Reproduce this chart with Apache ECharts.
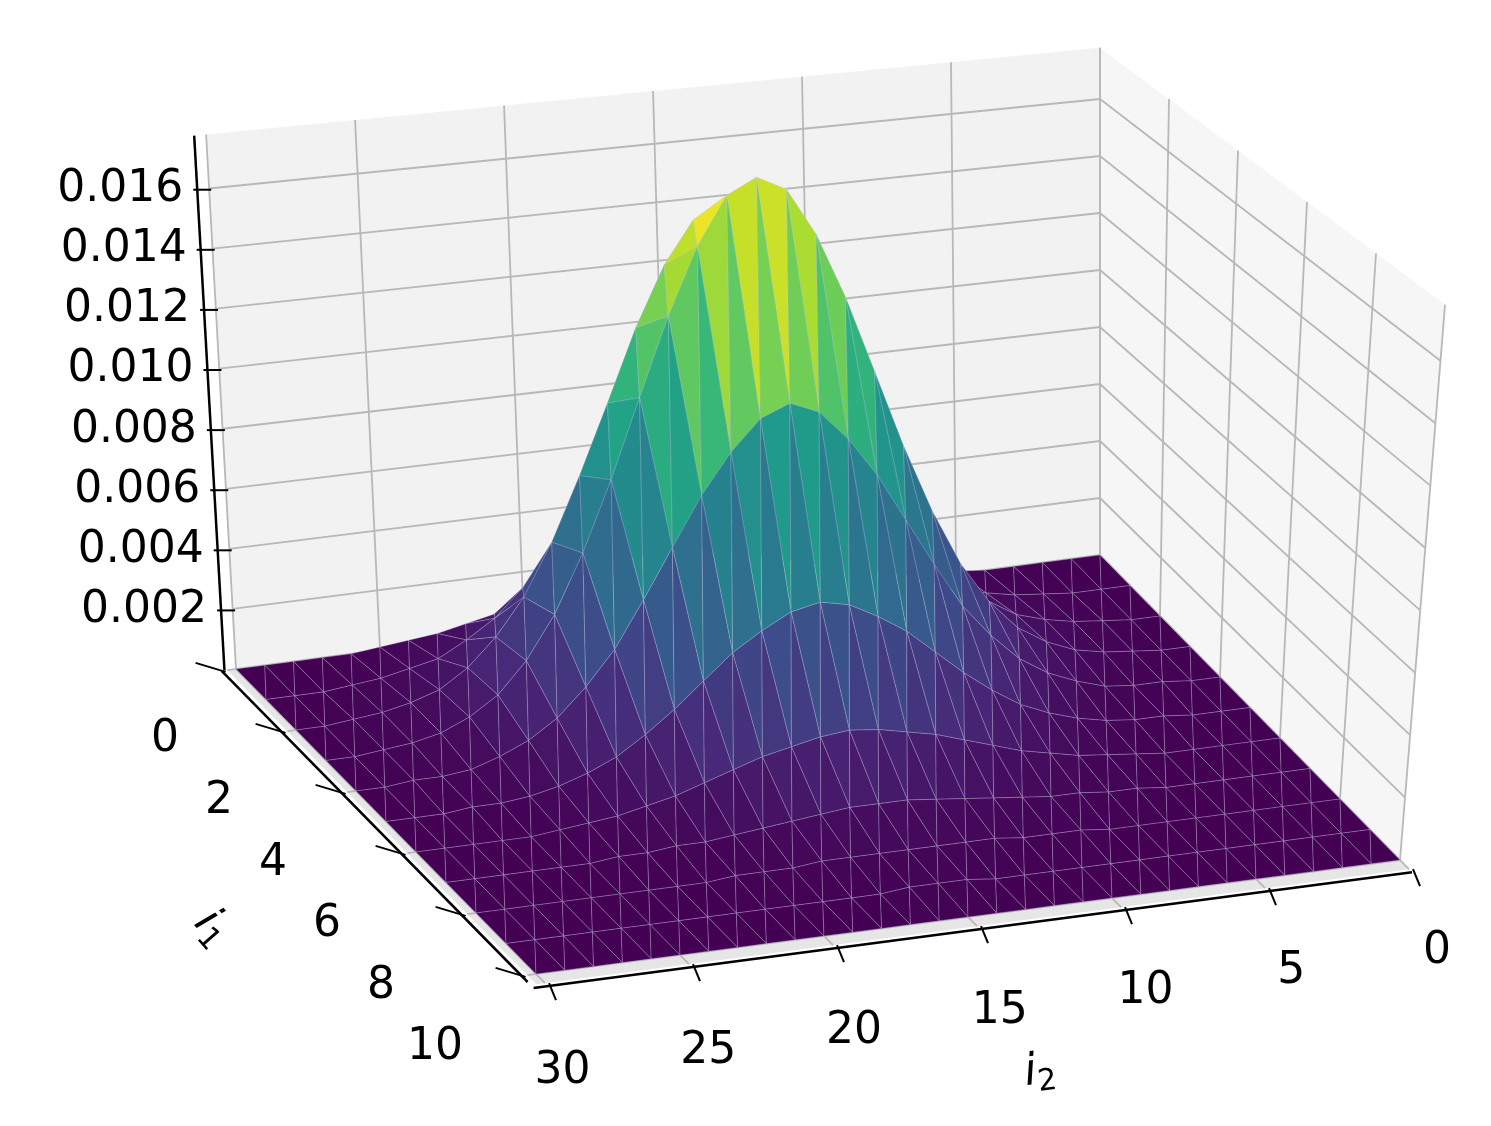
<!DOCTYPE html>
<html>
<head>
    <meta charset="utf-8" />
    <title></title>
    <script src="https://cdn.jsdelivr.net/npm/echarts@6/dist/echarts.min.js"></script>
    <style>html,body{margin:0;background:#fff;}</style>
</head>
<body>
    <div id="divChart" style="width:1491px;height:1126px;"></div>
    <script>
        // surface values, rows = i1 (0..10), columns = i2 (0..30), unit 1e-4
        let unit = 1e-4;
        let i1Ticks = [0, 2, 4, 6, 8, 10];
        let i2Ticks = [0, 5, 10, 15, 20, 25, 30];
        let zTicks = [0.002, 0.004, 0.006, 0.008, 0.010, 0.012, 0.014, 0.016];
        let zTickLabels = ['0.002', '0.004', '0.006', '0.008', '0.010', '0.012', '0.014', '0.016'];
        let zMax = 0.0178;
        let surface = [
            [0,0,0,0,0,1,2,3,5,7,10,13,16,18,20,21,20,18,16,13,10,7,5,3,2,1,0,0,0,0,0],
            [0,0,0,1,2,4,6,11,17,26,36,48,59,69,77,79,77,69,59,48,36,26,17,11,6,4,2,1,0,0,0],
            [0,0,1,2,4,7,13,22,34,51,72,95,119,139,153,158,153,139,119,95,72,51,34,22,13,7,4,2,1,0,0],
            [0,0,1,2,4,8,14,24,38,57,80,106,132,154,170,175,170,154,132,106,80,57,38,24,14,8,4,2,1,0,0],
            [0,0,1,1,2,5,9,15,24,35,50,66,82,95,105,109,105,95,82,66,50,35,24,15,9,5,2,1,1,0,0],
            [0,0,0,1,1,2,4,7,11,17,24,32,40,46,51,53,51,46,40,32,24,17,11,7,4,2,1,1,0,0,0],
            [0,0,0,0,0,1,2,3,5,7,10,13,16,18,20,21,20,18,16,13,10,7,5,3,2,1,0,0,0,0,0],
            [0,0,0,0,0,0,1,1,2,2,3,4,5,6,7,7,7,6,5,4,3,2,2,1,1,0,0,0,0,0,0],
            [0,0,0,0,0,0,0,0,0,1,1,1,2,2,2,2,2,2,2,1,1,1,0,0,0,0,0,0,0,0,0],
            [0,0,0,0,0,0,0,0,0,0,0,0,0,0,1,1,1,0,0,0,0,0,0,0,0,0,0,0,0,0,0],
            [0,0,0,0,0,0,0,0,0,0,0,0,0,0,0,0,0,0,0,0,0,0,0,0,0,0,0,0,0,0,0]
        ];

        // simple perspective-ish projection of (i1, i2, z) onto the page
        function P(a, b, z) {
            z = z || 0;
            let f = 0.95 + 0.009 * a + 0.0017 * b;
            return [1100 + 30 * a - 28.8 * b + z * (253 * a - 56 * b),
                    555 + 30.5 * a + 3.8 * b - z * 30000 * f];
        }
        function Z(a, b) { return surface[a][b] * unit; }

        // build triangles, far ones first
        let faces = [];
        for (let a = 0; a < surface.length - 1; a++) {
            for (let b = 0; b < surface[0].length - 1; b++) {
                let t1 = [[a, b], [a + 1, b], [a + 1, b + 1]];
                let t2 = [[a, b], [a, b + 1], [a + 1, b + 1]];
                [t1, t2].forEach(function (t) {
                    let ca = (t[0][0] + t[1][0] + t[2][0]) / 3;
                    let cb = (t[0][1] + t[1][1] + t[2][1]) / 3;
                    let zm = (Z(t[0][0], t[0][1]) + Z(t[1][0], t[1][1]) + Z(t[2][0], t[2][1])) / 3;
                    faces.push({ pts: t, depth: 30.5 * ca + 3.8 * cb, z: zm });
                });
            }
        }
        faces.sort(function (x, y) { return x.depth - y.depth; });

        let g = [];
        let font = '"DejaVu Sans", sans-serif';
        function poly(points, fill, z) {
            g.push({ type: 'polygon', z: z, shape: { points: points }, style: { fill: fill, stroke: null } });
        }
        function line(p1, p2, color, w, z) {
            g.push({ type: 'line', z: z, shape: { x1: p1[0], y1: p1[1], x2: p2[0], y2: p2[1] }, style: { stroke: color, lineWidth: w } });
        }
        function text(x, y, s, align, z, rot) {
            g.push({ type: 'text', z: z, x: x, y: y, rotation: rot || 0,
                style: { text: s, font: '44px ' + font, fill: '#000', align: align, verticalAlign: 'middle' } });
        }

        // panes
        poly([P(0, 0), P(0, 30), P(0, 30, zMax), P(0, 0, zMax)], '#f2f2f2', 0);
        poly([P(0, 0), P(10, 0), P(10, 0, zMax), P(0, 0, zMax)], '#f6f6f6', 0);
        poly([P(0, 0), P(10.3, 0), P(10.3, 30.3), P(0, 30.3)], '#e6e6e6', 0);
        // pane grid
        let gc = '#b8b8b8';
        i2Ticks.forEach(function (b) { line(P(0, b), P(0, b, zMax), gc, 1.8, 1); });
        i1Ticks.forEach(function (a) { line(P(a, 0), P(a, 0, zMax), gc, 1.8, 1); });
        zTicks.forEach(function (z) {
            line(P(0, 0, z), P(0, 30, z), gc, 1.8, 1);
            line(P(0, 0, z), P(10, 0, z), gc, 1.8, 1);
        });
        i2Ticks.forEach(function (b) { line(P(0, b), P(10.3, b), gc, 1.8, 1); });
        i1Ticks.forEach(function (a) { line(P(a, 0), P(a, 30.3), gc, 1.8, 1); });

        // z axis
        line(P(0, 30.4, 0), P(0, 30.4, zMax), '#000', 2.5, 20);
        zTicks.forEach(function (z, i) {
            let p = P(0, 30.4, z);
            line([p[0] - 4, p[1]], [p[0] + 14, p[1]], '#000', 2, 20);
            text(p[0] - 14, p[1], zTickLabels[i], 'right', 20);
        });
        // i1 axis
        line(P(0, 30.5), P(10.2, 30.5), '#000', 2.5, 20);
        i1Ticks.forEach(function (a) {
            let p = P(a, 30.5);
            line([p[0] - 26, p[1] - 8], [p[0] + 4, p[1] + 1], '#000', 2, 20);
            let q = P(a, 30);
            text(q[0] - 71 - 3 * a, q[1] + 71 + 0.3 * a, String(a), 'center', 20);
        });
        // i2 axis
        line(P(10.4, 0), P(10.4, 30.5), '#000', 2.5, 20);
        i2Ticks.forEach(function (b) {
            let p = P(10.4, b);
            line([p[0] + 1, p[1] - 3], [p[0] + 8, p[1] + 14], '#000', 2, 20);
            let q = P(10, b);
            text(q[0] + 37 - 0.35 * b, q[1] + 92 + 0.2 * b, String(b), 'center', 20);
        });
        g.push({ type: 'text', z: 20, x: 212, y: 928, rotation: -0.85,
            style: { text: '{i|i}{s|1}', align: 'center', verticalAlign: 'middle',
                rich: { i: { font: 'italic 44px ' + font, fill: '#000' }, s: { font: '30px ' + font, fill: '#000', padding: [22, 0, 0, 0] } } } });
        g.push({ type: 'text', z: 20, x: 1040, y: 1072, rotation: 0.13,
            style: { text: '{i|i}{s|2}', align: 'center', verticalAlign: 'middle',
                rich: { i: { font: 'italic 44px ' + font, fill: '#000' }, s: { font: '30px ' + font, fill: '#000', padding: [22, 0, 0, 0] } } } });

        let option = {
            backgroundColor: '#fff',
            animation: false,
            visualMap: {
                show: false,
                dimension: 1,
                min: 0,
                max: 0.0164,
                inRange: { color: ['#440154', '#482878', '#3e4989', '#31688e', '#26828e', '#1f9e89', '#35b779', '#6ece58', '#b5de2b', '#fde725'] }
            },
            graphic: g,
            series: [{
                type: 'custom',
                coordinateSystem: 'none',
                z: 10,
                data: faces.map(function (f, i) { return [i, f.z]; }),
                renderItem: function (params, api) {
                    let f = faces[api.value(0)];
                    let pts = f.pts.map(function (v) { return P(v[0], v[1], Z(v[0], v[1])); });
                    return {
                        type: 'polygon',
                        shape: { points: pts },
                        style: { fill: api.visual('color'), stroke: 'rgba(200,200,230,0.35)', lineWidth: 0.8 }
                    };
                }
            }]
        };
        echarts.init(document.getElementById('divChart')).setOption(option);
    </script>
</body>
</html>
